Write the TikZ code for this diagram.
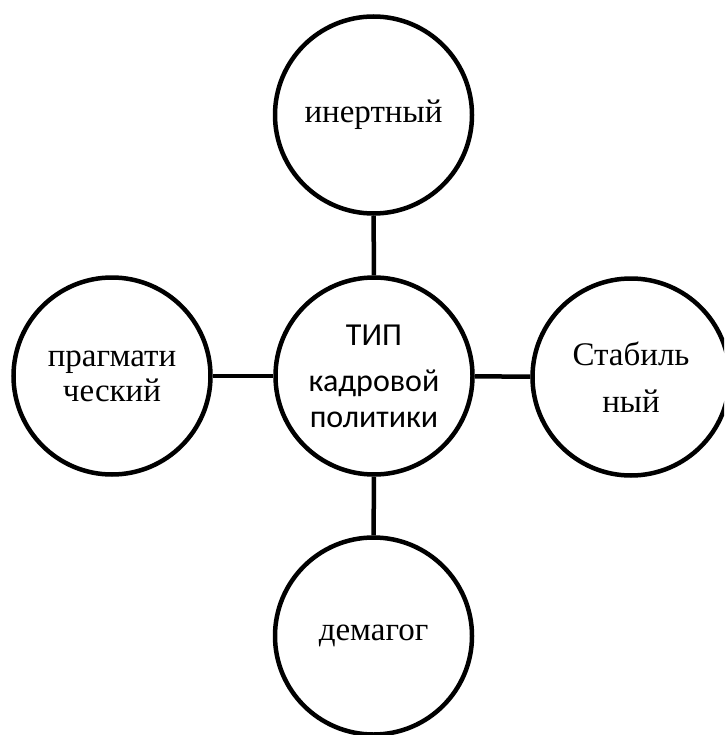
\documentclass[tikz,border=0pt]{standalone}
\usepackage{fontspec}
\setmainfont{Liberation Serif}
\newfontfamily\centerfont{Carlito}
\begin{document}
\begin{tikzpicture}[x=1pt,y=-1pt,
  bubble/.style={draw=black, line width=4.5pt, circle, minimum size=197pt, inner sep=0pt, align=center,
    font=\fontsize{33}{35}\selectfont},
  link/.style={draw=black, line width=4.5pt}]
\useasboundingbox (0,0) rectangle (724,735);
\clip (0,0) rectangle (724,735);
\node[bubble, font=\centerfont\fontsize{32}{36}\selectfont] (c) at (374,376) {ТИП\\[10pt]кадровой\\политики};
\node[bubble] (t) at (373.5,115) {\raisebox{-7pt}{инертный}};
\node[bubble] (l) at (112,376) {прагмати\\ческий};
\node[bubble] (r) at (631,377) {Стабиль\\[12pt]ный};
\node[bubble] (b) at (373.5,636) {\raisebox{-5pt}{демагог}};
\draw[link] (t) -- (c);
\draw[link] (c) -- (b);
\draw[link] (l) -- (c);
\draw[link] (c) -- (r);
\end{tikzpicture}
\end{document}
